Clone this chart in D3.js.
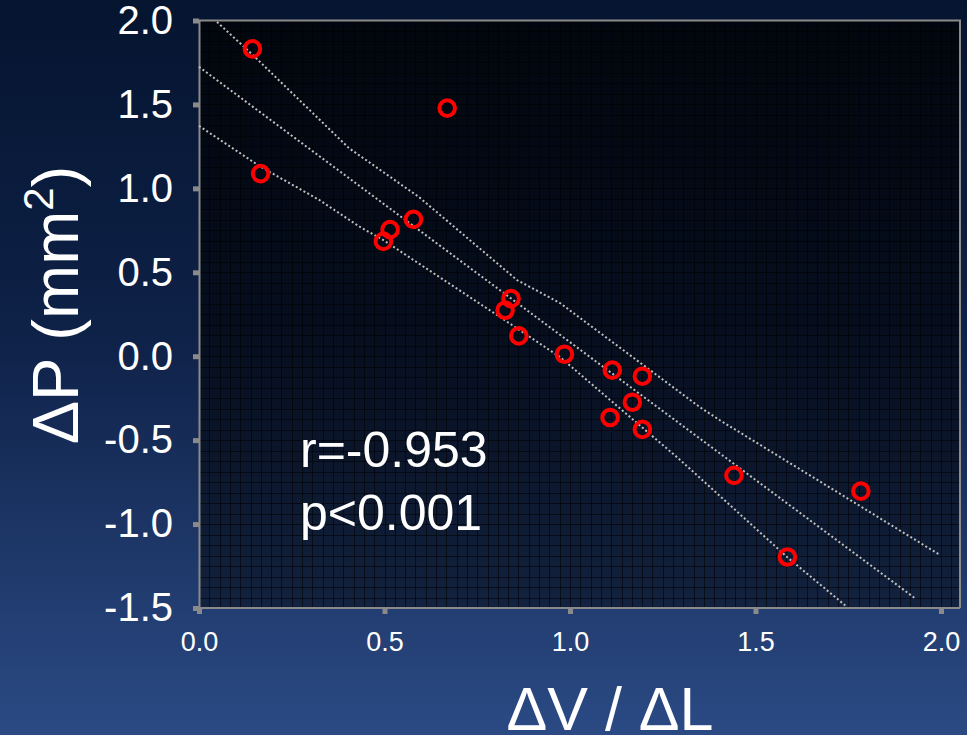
<!DOCTYPE html>
<html>
<head>
<meta charset="utf-8">
<script src="https://cdn.jsdelivr.net/npm/d3@7"></script>
<style>
  html, body { margin: 0; padding: 0; background: #061631; }
  svg { display: block; }
  text { font-family: "Liberation Sans", Arial, sans-serif; fill: #ffffff; }
</style>
</head>
<body>
<svg id="chart" width="967" height="735"></svg>
<script>
// ---- data ----
const xValues = [0.144, 0.166, 0.669, 0.578, 0.515, 0.497, 0.841, 0.825, 0.862,
                 0.985, 1.114, 1.195, 1.168, 1.108, 1.195, 1.442, 1.784, 1.586];
const yValues = [1.831, 1.088, 1.478, 0.815, 0.754, 0.684, 0.343, 0.274, 0.121,
                 0.012, -0.083, -0.119, -0.274, -0.365, -0.436, -0.710, -0.804, -1.196];

const fitX = [0, 1.930];
const fitY = [1.724, -1.442];
const upperX = [0.0485, 0.143, 0.270, 0.404, 0.593, 0.857, 0.973, 1.349, 1.403, 1.997];
const upperY = [1.991, 1.799, 1.527, 1.240, 0.948, 0.454, 0.317, -0.302, -0.380, -1.184];
const lowerX = [0, 0.167, 0.324, 0.434, 0.496, 0.811, 0.973, 1.297, 1.585, 1.747];
const lowerY = [1.372, 1.127, 0.931, 0.770, 0.693, 0.234, -0.005, -0.618, -1.196, -1.494];

const xTicks = [0, 0.5, 1.0, 1.5, 2.0];
const xTickLabels = ["0.0", "0.5", "1.0", "1.5", "2.0"];
const yTicks = [-1.5, -1.0, -0.5, 0, 0.5, 1.0, 1.5, 2.0];
const yTickLabels = ["-1.5", "-1.0", "-0.5", "0.0", "0.5", "1.0", "1.5", "2.0"];

const statsLines = ["r=-0.953", "p<0.001"];

// ---- layout ----
const W = 967, H = 735;
const svg = d3.select("#chart");
const x = d3.scaleLinear().domain([0, 2]).range([199, 941]);
const y = d3.scaleLinear().domain([-1.5, 2]).range([608, 20.5]);
const plotRight = 960;

const defs = svg.append("defs");
const bg = defs.append("linearGradient").attr("id", "bg").attr("x1", 0).attr("y1", 0).attr("x2", 0).attr("y2", 1);
bg.append("stop").attr("offset", "0%").attr("stop-color", "#051530");
bg.append("stop").attr("offset", "45%").attr("stop-color", "#0e2147");
bg.append("stop").attr("offset", "100%").attr("stop-color", "#2b4a84");

svg.append("rect").attr("width", W).attr("height", H).attr("fill", "url(#bg)");

// plot area
const pg = defs.append("linearGradient").attr("id", "pg").attr("x1", 0).attr("y1", 0).attr("x2", 0).attr("y2", 1);
pg.append("stop").attr("offset", "0%").attr("stop-color", "#000000").attr("stop-opacity", 0.72);
pg.append("stop").attr("offset", "100%").attr("stop-color", "#000000").attr("stop-opacity", 0.45);

svg.append("rect")
  .attr("x", x(0)).attr("y", y(2))
  .attr("width", plotRight - x(0)).attr("height", y(-1.5) - y(2))
  .attr("fill", "url(#pg)");

// fine grid
const gridG = svg.append("g").attr("stroke", "#000000").attr("stroke-opacity", 0.55).attr("stroke-width", 1);
const xMax = x.invert(plotRight);
gridG.selectAll("line.v").data(d3.range(1, Math.floor(xMax * 36) + 1).map(i => i / 36))
  .join("line").attr("class", "v")
  .attr("x1", d => Math.round(x(d)) + 0.5).attr("x2", d => Math.round(x(d)) + 0.5)
  .attr("y1", y(2)).attr("y2", y(-1.5));
gridG.selectAll("line.h").data(d3.range(1, 56).map(i => -1.5 + i / 16))
  .join("line").attr("class", "h")
  .attr("y1", d => Math.round(y(d)) + 0.5).attr("y2", d => Math.round(y(d)) + 0.5)
  .attr("x1", x(0)).attr("x2", plotRight);

// frame (top & right)
svg.append("path")
  .attr("d", `M${x(0)},${y(2)}H${plotRight}V${y(-1.5)}`)
  .attr("fill", "none").attr("stroke", "#8a8a8a").attr("stroke-width", 2);

// axes
const xAxis = d3.axisBottom(x).tickValues(xTicks).tickSize(6).tickPadding(18)
  .tickFormat((d, i) => xTickLabels[i]);
const yAxis = d3.axisLeft(y).tickValues(yTicks).tickSize(6).tickPadding(20)
  .tickFormat((d, i) => yTickLabels[i]);

const gx = svg.append("g").attr("transform", `translate(0,${y(-1.5)})`).call(xAxis);
gx.select(".domain").attr("d", `M${x(0)},0H${plotRight}`).attr("stroke", "#8a8a8a").attr("stroke-width", 2);
gx.selectAll(".tick line").attr("stroke", "#8a8a8a").attr("stroke-width", 5);
gx.selectAll(".tick text").attr("font-size", 27).attr("fill", "#ffffff")
  .attr("font-family", "Liberation Sans, Arial, sans-serif");

const gy = svg.append("g").attr("transform", `translate(${x(0)},0)`).call(yAxis);
gy.select(".domain").attr("stroke", "#8a8a8a").attr("stroke-width", 2);
gy.selectAll(".tick line").attr("stroke", "#8a8a8a").attr("stroke-width", 5);
gy.selectAll(".tick text").attr("font-size", 40).attr("fill", "#ffffff")
  .attr("font-family", "Liberation Sans, Arial, sans-serif");

// regression and band lines
const line = d3.line().x(d => x(d[0])).y(d => y(d[1]));
const lineStyle = sel => sel.attr("fill", "none").attr("stroke", "#c0c0c0")
  .attr("stroke-width", 2).attr("stroke-dasharray", "2,2.4");
svg.append("path").datum(fitX.map((v, i) => [v, fitY[i]])).attr("d", line).call(lineStyle);
svg.append("path").datum(upperX.map((v, i) => [v, upperY[i]])).attr("d", line).call(lineStyle);
svg.append("path").datum(lowerX.map((v, i) => [v, lowerY[i]])).attr("d", line).call(lineStyle);

// points
svg.append("g").selectAll("circle")
  .data(xValues.map((v, i) => [v, yValues[i]]))
  .join("circle")
  .attr("cx", d => x(d[0])).attr("cy", d => y(d[1])).attr("r", 7.8)
  .attr("fill", "none").attr("stroke", "#ff0000").attr("stroke-width", 4);

// stats annotation
svg.append("g").selectAll("text").data(statsLines).join("text")
  .attr("x", 300).attr("y", (d, i) => 467 + i * 63)
  .attr("font-size", 50)
  .text(d => d);

// axis titles
svg.append("text")
  .attr("x", 610).attr("y", 730)
  .attr("text-anchor", "middle").attr("font-size", 61)
  .text("ΔV / ΔL");

const yt = svg.append("text")
  .attr("transform", "translate(78,305) rotate(-90)")
  .attr("text-anchor", "middle").attr("font-size", 65);
yt.append("tspan").text("ΔP (mm");
yt.append("tspan").attr("font-size", 42).attr("dy", -25).text("2");
yt.append("tspan").attr("dy", 25).text(")");
</script>
</body>
</html>
